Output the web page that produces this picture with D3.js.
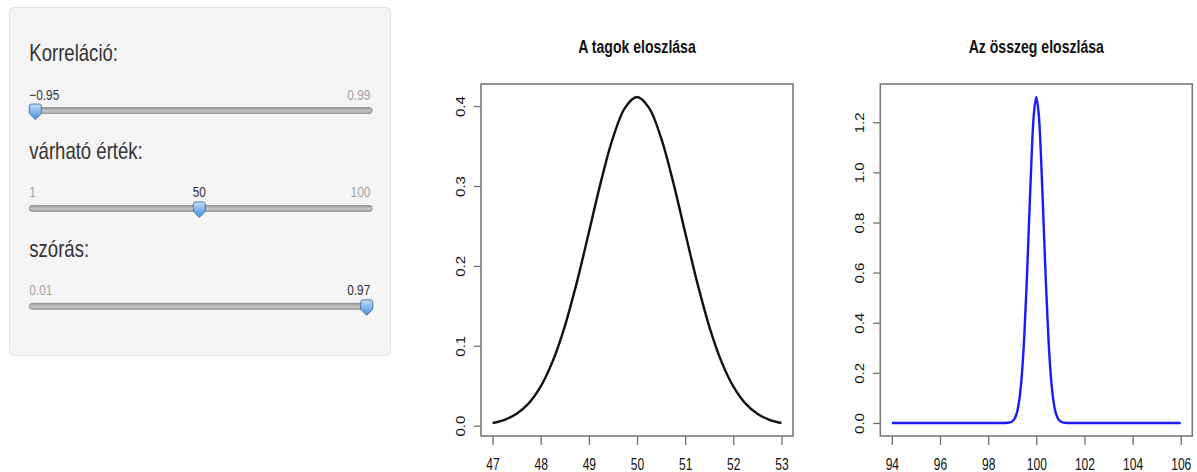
<!DOCTYPE html>
<html>
<head>
<meta charset="utf-8">
<script src="https://cdn.jsdelivr.net/npm/d3@7"></script>
<style>
  body { margin: 0; background: #fff; }
  text { font-family: "Liberation Sans", Arial, sans-serif; }
</style>
</head>
<body>
<div id="chart-container"></div>
<script>
// slider panel
const sliderLabels = ["Korreláció:", "várható érték:", "szórás:"];
const sliderMin = [-0.95, 1, 0.01];
const sliderMax = [0.99, 100, 0.97];
const sliderValue = [-0.95, 50, 0.97];
const sliderMinText = ["\u22120.95", "1", "0.01"];
const sliderMaxText = ["0.99", "100", "0.97"];
const sliderValueText = ["\u22120.95", "50", "0.97"];

// density of one term
const tagX = [47, 47.25, 47.5, 47.75, 48, 48.25, 48.5, 48.75, 49, 49.25, 49.5, 49.75, 50,
              50.25, 50.5, 50.75, 51, 51.25, 51.5, 51.75, 52, 52.25, 52.5, 52.75, 53];
const tagY = [0.0034, 0.0074, 0.0149, 0.0279, 0.0491, 0.0808, 0.1244, 0.1793, 0.2418, 0.3051, 0.3601, 0.3978, 0.4113,
              0.3978, 0.3601, 0.3051, 0.2418, 0.1793, 0.1244, 0.0808, 0.0491, 0.0279, 0.0149, 0.0074, 0.0034];
const tagTicksX = [47, 48, 49, 50, 51, 52, 53];
const tagTicksY = [0, 0.1, 0.2, 0.3, 0.4];

// density of the sum
const sumX = [94, 96, 98, 98.6, 98.7, 98.8, 98.9, 99, 99.1, 99.2, 99.3, 99.4, 99.5, 99.6, 99.7, 99.8, 99.9, 100,
              100.1, 100.2, 100.3, 100.4, 100.5, 100.6, 100.7, 100.8, 100.9, 101, 101.1, 101.2, 101.3, 101.4, 102, 104, 106];
const sumY = [0, 0, 0, 0, 0.0001, 0.0006, 0.0021, 0.0064, 0.0176, 0.0433, 0.0961, 0.1919, 0.3444, 0.5557, 0.8062, 1.0516, 1.2333, 1.3007,
              1.2333, 1.0516, 0.8062, 0.5557, 0.3444, 0.1919, 0.0961, 0.0433, 0.0176, 0.0064, 0.0021, 0.0006, 0.0001, 0, 0, 0, 0];
const sumTicksX = [94, 96, 98, 100, 102, 104, 106];
const sumTicksY = [0, 0.2, 0.4, 0.6, 0.8, 1.0, 1.2];

const width = 1197, height = 472;
const sx = 0.8; // the screenshot is squeezed horizontally

const svg = d3.select("#chart-container")
    .append("svg")
    .attr("width", width)
    .attr("height", height);

const defs = svg.append("defs");

const trackGrad = defs.append("linearGradient")
    .attr("id", "track-grad").attr("x1", 0).attr("y1", 0).attr("x2", 0).attr("y2", 1);
trackGrad.append("stop").attr("offset", "0%").attr("stop-color", "#8f8f8f");
trackGrad.append("stop").attr("offset", "50%").attr("stop-color", "#c4c4c4");
trackGrad.append("stop").attr("offset", "100%").attr("stop-color", "#a9a9a9");

const knobGrad = defs.append("linearGradient")
    .attr("id", "knob-grad").attr("x1", 0).attr("y1", 0).attr("x2", 0).attr("y2", 1);
knobGrad.append("stop").attr("offset", "0%").attr("stop-color", "#c6e0f8");
knobGrad.append("stop").attr("offset", "45%").attr("stop-color", "#86b9ea");
knobGrad.append("stop").attr("offset", "100%").attr("stop-color", "#4f8fd6");

// === Sidebar ===
svg.append("rect")
    .attr("x", 9.5).attr("y", 7.5)
    .attr("width", 381).attr("height", 348)
    .attr("rx", 4)
    .attr("fill", "#f5f5f5")
    .attr("stroke", "#e3e3e3");

const trackLeft = 29.3, trackRight = 372.3;

sliderLabels.forEach((label, i) => {
    const headY = 61 + 97.9 * i;
    const trackY = headY + 49.5;
    const pos = d3.scaleLinear()
        .domain([sliderMin[i], sliderMax[i]])
        .range([trackLeft + 6, trackRight - 5.6]);
    const g = svg.append("g");

    g.append("text")
        .attr("transform", `translate(${trackLeft},${headY}) scale(${sx},1)`)
        .attr("font-size", 23.2)
        .attr("fill", "#333")
        .text(label);

    g.append("rect")
        .attr("x", trackLeft).attr("y", trackY - 3)
        .attr("width", trackRight - trackLeft).attr("height", 6)
        .attr("rx", 3)
        .attr("fill", "url(#track-grad)")
        .attr("stroke", "#8a8a8a")
        .attr("stroke-width", 0.8);

    const labY = trackY - 11;
    const hx = pos(sliderValue[i]);

    // value label, centred on the knob but kept inside the track
    const val = g.append("text")
        .attr("font-size", 14.8)
        .attr("fill", "#333")
        .text(sliderValueText[i]);
    const w = val.node().getComputedTextLength() * sx;
    const vx = Math.max(trackLeft, Math.min(trackRight - 2 - w, hx - w / 2));
    val.attr("transform", `translate(${vx},${labY}) scale(${sx},1)`);

    const minLab = g.append("text")
        .attr("font-size", 14.8).attr("fill", "#a3a3a3")
        .text(sliderMinText[i]);
    const minW = minLab.node().getComputedTextLength() * sx;
    minLab.attr("transform", `translate(${trackLeft},${labY}) scale(${sx},1)`);
    if (vx < trackLeft + minW + 2) minLab.remove();

    const maxLab = g.append("text")
        .attr("font-size", 14.8).attr("fill", "#a3a3a3")
        .attr("text-anchor", "end")
        .text(sliderMaxText[i]);
    const maxW = maxLab.node().getComputedTextLength() * sx;
    maxLab.attr("transform", `translate(${trackRight - 2},${labY}) scale(${sx},1)`);
    if (vx + w > trackRight - 2 - maxW - 2) maxLab.remove();

    // knob
    const k = d3.path();
    k.moveTo(hx - 6, trackY - 4);
    k.quadraticCurveTo(hx - 6, trackY - 6.5, hx - 3.5, trackY - 6.5);
    k.lineTo(hx + 3.5, trackY - 6.5);
    k.quadraticCurveTo(hx + 6, trackY - 6.5, hx + 6, trackY - 4);
    k.lineTo(hx + 6, trackY + 3);
    k.lineTo(hx, trackY + 9);
    k.lineTo(hx - 6, trackY + 3);
    k.closePath();
    g.append("path")
        .attr("d", k.toString())
        .attr("fill", "url(#knob-grad)")
        .attr("stroke", "#3b6fae")
        .attr("stroke-width", 0.9);
});

// === Density plots ===
function densityPlot(opt) {
    const { left, right, top, bottom } = opt.box;
    const g = svg.append("g");

    const xExt = d3.extent(opt.xs), yExt = d3.extent(opt.ys);
    const xPad = (xExt[1] - xExt[0]) * 0.04, yPad = (yExt[1] - yExt[0]) * 0.04;
    const x = d3.scaleLinear().domain([xExt[0] - xPad, xExt[1] + xPad]).range([left, right]);
    const y = d3.scaleLinear().domain([yExt[0] - yPad, yExt[1] + yPad]).range([bottom, top]);

    const line = d3.line()
        .x((d, i) => x(opt.xs[i]))
        .y(d => y(d))
        .curve(d3.curveCatmullRom.alpha(0.5));

    g.append("path")
        .datum(opt.ys)
        .attr("fill", "none")
        .attr("stroke", opt.color)
        .attr("stroke-width", 2.4)
        .attr("stroke-linejoin", "round")
        .attr("d", line);

    // x axis
    const ax = g.append("g")
        .attr("transform", `translate(0,${bottom})`)
        .call(d3.axisBottom(x).tickValues(opt.ticksX).tickSize(9).tickSizeOuter(0).tickFormat(d3.format("d")));
    // y axis
    const ay = g.append("g")
        .attr("transform", `translate(${left},0)`)
        .call(d3.axisLeft(y).tickValues(opt.ticksY).tickSize(7).tickSizeOuter(0).tickFormat(d3.format(".1f")));

    [ax, ay].forEach(a => {
        a.select(".domain").remove();
        a.selectAll("line").attr("stroke", "#6f6f6f").attr("stroke-width", 1.3);
        a.selectAll("text").attr("fill", "#111")
            .attr("font-family", "'Liberation Sans', Arial, sans-serif");
    });
    ax.selectAll("text").attr("y", 0).attr("dy", 0)
        .attr("font-size", 17)
        .attr("transform", "translate(0,33.5) scale(0.71,1)");
    ay.selectAll("text").attr("x", 0).attr("dy", 0)
        .attr("font-size", 15)
        .attr("text-anchor", "middle")
        .attr("transform", `translate(-16,0) scale(${sx},1) rotate(-90)`);

    // box
    g.append("rect")
        .attr("x", left).attr("y", top)
        .attr("width", right - left).attr("height", bottom - top)
        .attr("fill", "none")
        .attr("stroke", "#7a7a7a")
        .attr("stroke-width", 1.6);

    g.append("text")
        .attr("transform", `translate(${(left + right) / 2},53) scale(${sx},1)`)
        .attr("text-anchor", "middle")
        .attr("font-size", 17.6)
        .attr("font-weight", "bold")
        .attr("fill", "#111")
        .text(opt.title);
}

densityPlot({
    box: { left: 481, right: 793, top: 84, bottom: 436 },
    xs: tagX, ys: tagY, ticksX: tagTicksX, ticksY: tagTicksY,
    color: "#111", title: "A tagok eloszlása"
});

densityPlot({
    box: { left: 880.3, right: 1192.3, top: 84, bottom: 436 },
    xs: sumX, ys: sumY, ticksX: sumTicksX, ticksY: sumTicksY,
    color: "#1a1aff", title: "Az összeg eloszlása"
});
</script>
</body>
</html>
